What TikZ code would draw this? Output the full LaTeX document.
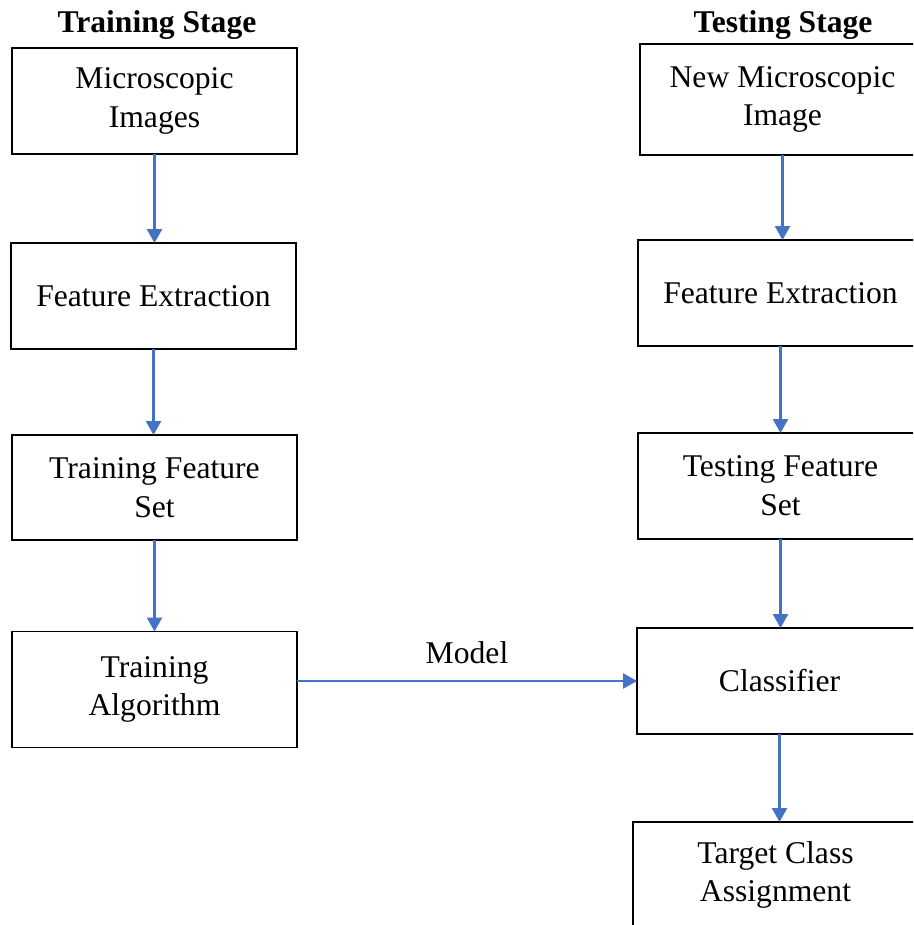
\documentclass[tikz,border=0pt]{standalone}
\usepackage{fontspec}
\setmainfont{Liberation Serif}
\usetikzlibrary{arrows.meta}
\definecolor{flowblue}{HTML}{4472C4}
\tikzset{
  stagebox/.style={draw=black, line width=0.8pt, rectangle, inner sep=0pt, outer sep=0pt,
    minimum width=5.7cm, minimum height=2.12cm, align=center,
    font=\fontsize{18}{22}\selectfont},
  stagehead/.style={font=\fontsize{18}{22}\selectfont\bfseries},
  flow/.style={draw=flowblue, line width=1.4pt, -{Triangle[length=0.28cm,width=0.3cm]}}
}
\begin{document}
\begin{tikzpicture}[x=0.02cm, y=-0.02cm]
      \useasboundingbox (0,0) rectangle (913,925);
      \clip (0,0) rectangle (913,925);
      \draw
        (157,25) node[stagehead] (trainhead){Training Stage}
        (783,25) node[stagehead] (testhead){Testing Stage}
        (154.5,101) node[stagebox] (train1){Microscopic\\Images}
        (153.5,296) node[stagebox] (train2){Feature Extraction}
        (154.5,487.5) node[stagebox, minimum height=2.1cm] (train3){Training Feature\\Set}
        (154.5,689.5) node[stagebox, minimum height=2.32cm] (train4){Training\\Algorithm}
        (782.5,99.5) node[stagebox, minimum height=2.22cm] (test1){New Microscopic\\Image}
        (780.5,293) node[stagebox] (test2){Feature Extraction}
        (780.5,486) node[stagebox] (test3){Testing Feature\\Set}
        (779.5,681) node[stagebox] (test4){Classifier}
        (775.5,875) node[stagebox] (test5){Target Class\\Assignment};
      \begin{scope}[flow]
        \draw (train1.south) to (train1.south |- train2.north);
        \draw (train2.south) to (train2.south |- train3.north);
        \draw (train3.south) to (train3.south |- train4.north);
        \draw (test1.south) to (test1.south |- test2.north);
        \draw (test2.south) to (test2.south |- test3.north);
        \draw (test3.south) to (test3.south |- test4.north);
        \draw (test4.south) to (test4.south |- test5.north);
        \draw (test4.west -| train4.east) to
          node[above=0.2cm, black, font=\fontsize{18}{22}\selectfont] (modellabel){Model} (test4.west);
      \end{scope}
    \end{tikzpicture}
\end{document}
